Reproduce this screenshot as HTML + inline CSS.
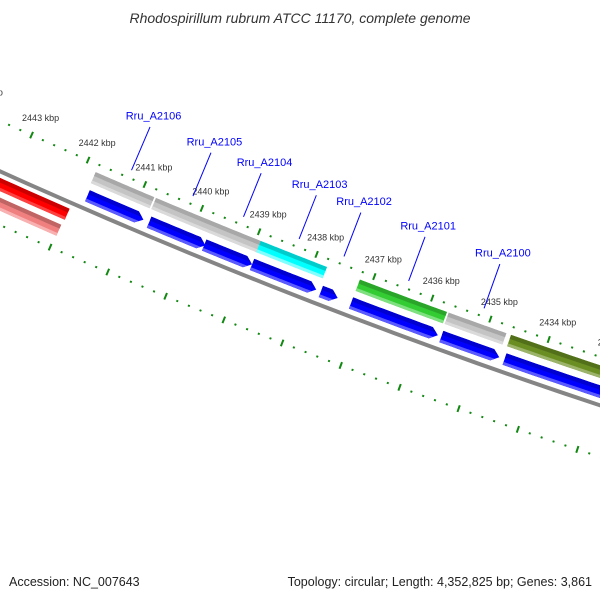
<!DOCTYPE html>
<html><head><meta charset="utf-8"><style>
html,body{margin:0;padding:0;background:#fff}
svg{display:block;font-family:"Liberation Sans","DejaVu Sans",sans-serif}
</style></head><body>
<svg id="map" width="600" height="600" viewBox="0 0 600 600" xmlns="http://www.w3.org/2000/svg">
<defs><clipPath id="vp"><rect x="0" y="30" width="600" height="530"/></clipPath></defs>
<text x="300" y="23" text-anchor="middle" font-size="14" font-style="italic" fill="#333">Rhodospirillum rubrum ATCC 11170, complete genome</text>
<g id="plot" clip-path="url(#vp)"></g>
<text x="9" y="586" font-size="12.5" fill="#222">Accession: NC_007643</text>
<text x="592" y="586" text-anchor="end" font-size="12.5" fill="#222">Topology: circular; Length: 4,352,825 bp; Genes: 3,861</text>
</svg>
<script>
// data
const tickMajors = [2432,2433,2434,2435,2436,2437,2438,2439,2440,2441,2442,2443,2444,2445];
const tickLabels = ['2432 kbp','2433 kbp','2434 kbp','2435 kbp','2436 kbp','2437 kbp','2438 kbp','2439 kbp','2440 kbp','2441 kbp','2442 kbp','2443 kbp','2444 kbp','2445 kbp'];
const cdsStart = [2441.78, 2440.70, 2439.74, 2438.91, 2437.72, 2437.20, 2435.65, 2434.57];
const cdsEnd   = [2440.80, 2439.72, 2438.91, 2437.80, 2437.43, 2435.71, 2434.66, 2431.50];
const cdsNames = ['Rru_A2106','Rru_A2105','Rru_A2104','Rru_A2103','Rru_A2102','Rru_A2101','Rru_A2100',''];
const featStart = [2441.81, 2440.75, 2438.92, 2437.20, 2435.67, 2434.60];
const featEnd   = [2440.78, 2438.90, 2437.77, 2435.70, 2434.68, 2431.50];
const featType  = ['other','other','cyan','green','other','olive'];
const revStart = [2446.5, 2446.5];
const revEnd   = [2441.96, 2441.98];
const revType  = ['red','pink'];

const NS='http://www.w3.org/2000/svg';
const plot=document.getElementById('plot');
const CX=2545, CY=-5468, A0=114.16, K0=2443, DEG=0.5767;
const R_BACK=6187, R_TICK=6141, R_TICK2=6236, R_CDS=[6168,6180], R_FEAT=[6149,6161], R_REV=[[6193,6205],[6211,6223]];
const R_LINE=[6133,6086], R_LABEL=6077;
const colors={other:['#a8a8a8','#c4c4c4','#dadada'],cyan:['#00cccc','#00ffff','#80ffff'],green:['#2aa52a','#33cc33','#7ee07e'],olive:['#52701a','#6b8e23','#9cb36a'],blue:['#0000d0','#0000ff','#5a5aff'],red:['#cc0000','#ff0000','#ff4040'],pink:['#c06464','#f08080','#f8b0b0']};
function ang(k){return (A0+(k-K0)*DEG)*Math.PI/180;}
function pt(k,r){const a=ang(k);return [CX+r*Math.cos(a),CY+r*Math.sin(a)];}
function arcPts(k1,k2,r){const n=24,o=[];for(let i=0;i<=n;i++){o.push(pt(k1+(k2-k1)*i/n,r));}return o;}
function poly(pts){return pts.map(p=>p[0].toFixed(2)+','+p[1].toFixed(2)).join(' ');}
function band(k1,k2,r1,r2,arrow){
  if(arrow){const h=Math.min(0.12,(k1-k2)*0.5);
    return arcPts(k1,k2+h,r1).concat([pt(k2,(r1+r2)/2)],arcPts(k2+h,k1,r2));}
  return arcPts(k1,k2,r1).concat(arcPts(k2,k1,r2));
}
let clipId=0;
function drawBand(k1,k2,r1,r2,arrow,cols,name){
  const g=document.createElementNS(NS,'g');
  
  
  const id='c'+(clipId++);
  const cp=document.createElementNS(NS,'clipPath');cp.setAttribute('id',id);
  const sh=document.createElementNS(NS,'polygon');sh.setAttribute('points',poly(band(k1,k2,r1,r2,arrow)));
  cp.appendChild(sh);g.appendChild(cp);
  const main=document.createElementNS(NS,'polygon');main.setAttribute('points',poly(band(k1,k2,r1,r2,arrow)));main.setAttribute('fill',cols[1]);g.appendChild(main);
  const top=document.createElementNS(NS,'polygon');top.setAttribute('points',poly(band(k1+0.2,k2-0.2,r1-1,r1+(r2-r1)*0.35,false)));top.setAttribute('fill',cols[0]);top.setAttribute('clip-path','url(#'+id+')');g.appendChild(top);
  const bot=document.createElementNS(NS,'polygon');bot.setAttribute('points',poly(band(k1+0.2,k2-0.2,r2-(r2-r1)*0.25,r2+1,false)));bot.setAttribute('fill',cols[2]);bot.setAttribute('clip-path','url(#'+id+')');g.appendChild(bot);
  plot.appendChild(g);
}
// backbone
const bb=document.createElementNS(NS,'polyline');


bb.setAttribute('points',poly(arcPts(2447,2430,R_BACK)));bb.setAttribute('fill','none');bb.setAttribute('stroke','#858585');bb.setAttribute('stroke-width','4');
plot.appendChild(bb);
// ticks
[R_TICK,R_TICK2].forEach((r,ri)=>{
  for(let i=0;i<tickMajors.length-1;i++){
    for(let j=0;j<5;j++){
      const k=tickMajors[i]+j*0.2, major=j===0, len=major?3.5:1;
      const p1=pt(k,r-len),p2=pt(k,r+len);
      const t=document.createElementNS(NS,'line');
      
      
      t.setAttribute('x1',p1[0]);t.setAttribute('y1',p1[1]);t.setAttribute('x2',p2[0]);t.setAttribute('y2',p2[1]);
      t.setAttribute('stroke','#118811');t.setAttribute('stroke-width','2');
      plot.appendChild(t);
    }
  }
});
tickMajors.forEach((k,i)=>{
  const p=pt(k,R_TICK);
  const t=document.createElementNS(NS,'text');
  
  
  t.setAttribute('x',p[0]+9);t.setAttribute('y',p[1]-14);t.setAttribute('text-anchor','middle');t.setAttribute('font-size','9');t.setAttribute('fill','#333');
  t.textContent=tickLabels[i];plot.appendChild(t);
});
// reverse strand features
revStart.forEach((s,i)=>drawBand(s,revEnd[i],R_REV[i][0],R_REV[i][1],false,colors[revType[i]],'reverse-feature'));
// features
featStart.forEach((s,i)=>drawBand(s,featEnd[i],R_FEAT[0],R_FEAT[1],false,colors[featType[i]],'feature-'+featType[i]));
// CDS
cdsStart.forEach((s,i)=>drawBand(s,cdsEnd[i],R_CDS[0],R_CDS[1],i<cdsStart.length-1,colors.blue,'cds-arrow'));
// labels
cdsNames.forEach((n,i)=>{
  if(!n)return;
  const m=(cdsStart[i]+cdsEnd[i])/2;
  const a=pt(m,R_LINE[0]),b=pt(m,R_LINE[1]),c=pt(m,R_LABEL);
  const l=document.createElementNS(NS,'line');
  
  
  l.setAttribute('x1',a[0]);l.setAttribute('y1',a[1]);l.setAttribute('x2',b[0]);l.setAttribute('y2',b[1]);l.setAttribute('stroke','#0000ff');l.setAttribute('stroke-width','1');
  plot.appendChild(l);
  const t=document.createElementNS(NS,'text');
  
  
  t.setAttribute('x',c[0]);t.setAttribute('y',c[1]+1);t.setAttribute('text-anchor','middle');t.setAttribute('font-size','11');t.setAttribute('fill','#0000ff');
  t.textContent=n;plot.appendChild(t);
});
</script>
</body></html>
